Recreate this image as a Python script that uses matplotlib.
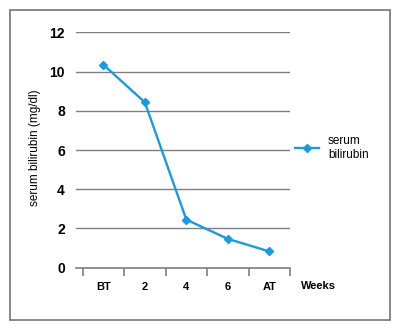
import matplotlib
matplotlib.use("Agg")
import matplotlib.pyplot as plt
from matplotlib.patches import Rectangle

# data
weeks = ['BT', '2', '4', '6', 'AT']
bilirubin = [10.35, 8.43, 2.45, 1.47, 0.83]
y_ticks = [0, 2, 4, 6, 8, 10, 12]

blue = '#1a9ae0'
grey = '#7f7f7f'
font = ['Liberation Sans', 'DejaVu Sans']

fig = plt.figure(figsize=(4, 3.3), dpi=100)
fig.patches.append(Rectangle((10 / 400, 10 / 330), 380 / 400, 310 / 330,
                             transform=fig.transFigure, fill=False,
                             edgecolor=grey, linewidth=1.3))

ax = fig.add_axes([76 / 400, 62.3 / 330, 214 / 400, 235.4 / 330])
x = list(range(len(weeks)))
ax.plot(x, bilirubin, color=blue, linewidth=1.7, marker='D',
        markersize=4, label='serum\nbilirubin')

ax.set_xlim(-0.66, 4.5)
ax.set_ylim(0, 12)
ax.set_yticks(y_ticks)
ax.set_yticklabels([str(v) for v in y_ticks], family=font,
                   fontweight='bold', fontsize=10)
ax.yaxis.grid(True, color=grey, linewidth=1)
ax.set_axisbelow(True)
ax.tick_params(axis='y', length=0, pad=8)

ax.set_xticks(x)
ax.set_xticklabels(weeks, family=font, fontweight='bold', fontsize=8)
ax.set_xticks([i - 0.5 for i in range(len(weeks) + 1)], minor=True)
ax.tick_params(axis='x', which='major', length=0, pad=10)
ax.tick_params(axis='x', which='minor', length=6, width=1.2, color=grey,
               direction='out')

for s in ['top', 'right', 'left']:
    ax.spines[s].set_visible(False)
ax.spines['bottom'].set_color(grey)
ax.spines['bottom'].set_linewidth(1.2)

ax.set_ylabel('serum bilirubin (mg/dl)', family=font, fontsize=8.5)
ax.yaxis.set_label_coords(-0.165, 0.51)
fig.text(318 / 400, 1 - 286 / 330, 'Weeks', family=font,
         fontweight='bold', fontsize=8, ha='center', va='center')

ax.legend(loc='center left', bbox_to_anchor=(1.023, 0.51),
          frameon=False, borderaxespad=0, borderpad=0,
          handlelength=2.0, handletextpad=0.8,
          prop={'family': font, 'size': 8.5})

fig.savefig('out.png', dpi=100)
